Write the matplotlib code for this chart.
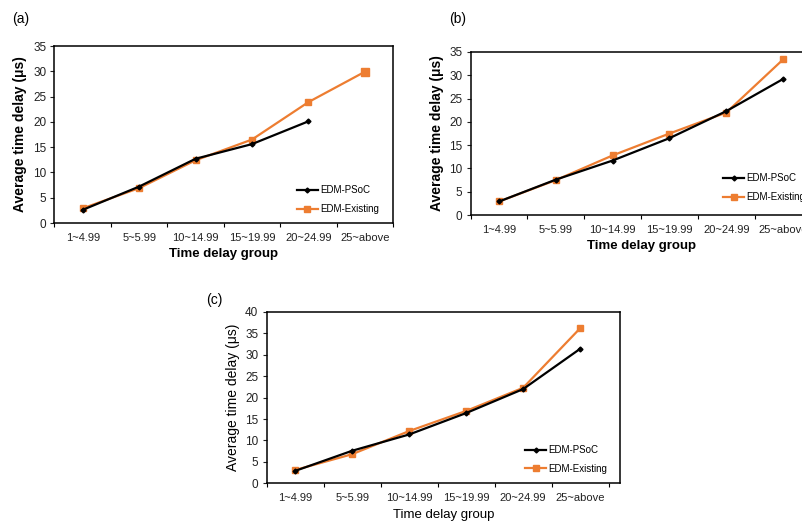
import numpy as np
import matplotlib
matplotlib.use("Agg")
import matplotlib.pyplot as plt

plt.rcParams["font.family"] = ["Liberation Sans", "DejaVu Sans"]

GROUPS = ["1~4.99", "5~5.99", "10~14.99", "15~19.99", "20~24.99", "25~above"]

# panel (a)
A_PSOC = [2.6, 7.2, 12.7, 15.6, 20.1, np.nan]
A_EXIST = [2.9, 6.9, 12.4, 16.5, 23.9, 29.9]
# panel (b)
B_PSOC = [2.9, 7.6, 11.7, 16.5, 22.3, 29.2]
B_EXIST = [2.9, 7.5, 12.8, 17.5, 22.0, 33.4]
# panel (c)
C_PSOC = [2.9, 7.6, 11.4, 16.4, 22.0, 31.4]
C_EXIST = [3.1, 6.8, 12.2, 16.9, 22.3, 36.2]

ORANGE = "#ED7D31"
W, H = 803, 522


def rect(left, top, right, bottom):
    return [left / W, (H - bottom) / H, (right - left) / W, (bottom - top) / H]


def panel(fig, pos, psoc, exist, ymax, xmax, bold, leg_xy, ylab_size, big_last=False):
    ax = fig.add_axes(pos)
    x = np.arange(len(GROUPS))
    ax.plot(x, psoc, "-D", color="black", lw=1.6, ms=2.5, label="EDM-PSoC", zorder=3)
    ax.plot(x, exist, "-s", color=ORANGE, lw=1.6, ms=4, label="EDM-Existing", zorder=2)
    if big_last:
        ax.plot(x[-1], exist[-1], "s", color=ORANGE, ms=6, zorder=2)
    ax.set_xlim(-0.5, xmax)
    ax.set_ylim(0, ymax)
    ax.set_yticks(np.arange(0, ymax + 1, 5))
    ax.set_xticks(x)
    ax.set_xticklabels(GROUPS)
    ax.set_xticks(np.arange(-0.5, len(GROUPS), 1), minor=True)
    ax.tick_params(axis="x", which="major", length=0, labelsize=8, pad=7, colors="#222")
    ax.tick_params(axis="x", which="minor", length=3, width=0.8, direction="out")
    ax.tick_params(axis="y", length=3, width=0.8, labelsize=8.5, pad=3, colors="#222")
    for s in ax.spines.values():
        s.set_linewidth(1.1)
    fw = "bold" if bold else "normal"
    ax.set_ylabel("Average time delay (μs)", fontsize=ylab_size, fontweight=fw, labelpad=4)
    ax.set_xlabel("Time delay group", fontsize=9.5, fontweight=fw, labelpad=4)
    ax.legend(loc="lower left", bbox_to_anchor=leg_xy, frameon=False, fontsize=7,
              handlelength=2.2, handletextpad=0.2, labelspacing=0.9,
              borderpad=0, borderaxespad=0)
    return ax


fig = plt.figure(figsize=(W / 100, H / 100), dpi=100)

panel(fig, rect(54.5, 46, 393, 223), A_PSOC, A_EXIST, 35, 5.5, True, (0.715, 0.05), 10, big_last=True)
panel(fig, rect(470.7, 52, 811.5, 215), B_PSOC, B_EXIST, 35, 5.5, True, (0.74, 0.08), 10)
panel(fig, rect(266.7, 312, 620, 483.3), C_PSOC, C_EXIST, 40, 5.7, False, (0.731, 0.055), 10)

fig.text(12 / W, 1 - 19 / H, "(a)", fontsize=10, va="center", ha="left")
fig.text(449 / W, 1 - 19 / H, "(b)", fontsize=10, va="center", ha="left")
fig.text(206 / W, 1 - 300 / H, "(c)", fontsize=10, va="center", ha="left")

fig.savefig("out.png", dpi=100)
